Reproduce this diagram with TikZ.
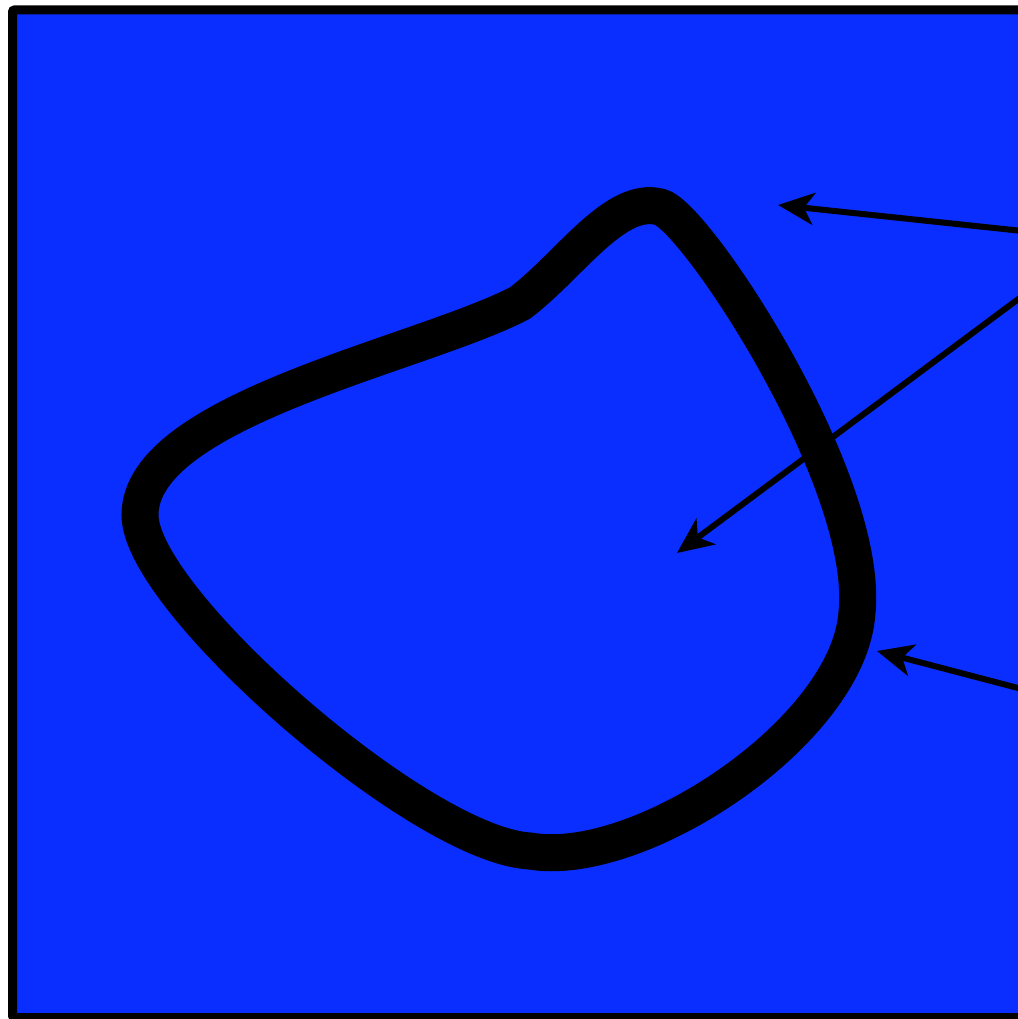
\documentclass[tikz,border=0pt]{standalone}
\usepackage{xcolor}
\definecolor{fieldblue}{RGB}{10,46,255}
\usetikzlibrary{arrows.meta}

\begin{document}
\begin{tikzpicture}[
        x=1pt, y=-1pt,
        frame/.style={draw=black, line width=9pt, fill=fieldblue, rounded corners=2pt},
        loopline/.style={draw=black, line width=37pt},
        pointer/.style={draw=black, line width=6pt,
                        -{Stealth[length=36pt, width=32pt, inset=10pt]}}
      ]
        \useasboundingbox (0,0) rectangle (1017,1019);

        % Blue field
        \path[frame] (12.5,10) rectangle (1040,1017.5);

        % Closed curve
        \path[loopline] (520,303)
            .. controls (570,265) and (615,195) .. (660,207)
            .. controls (695,215) and (870,480) .. (857,612)
            .. controls (850,730) and (640,870) .. (530,851)
            .. controls (420,845) and (140,600) .. (140,515)
            .. controls (140,410) and (420,355) .. cycle;

        % Arrow ends
        \coordinate (srcA) at (1060,235);
        \coordinate (tipA) at (778,205);
        \coordinate (srcB) at (1060,268);
        \coordinate (tipB) at (677,553);
        \coordinate (srcC) at (1060,699);
        \coordinate (tipC) at (877,651);

        % Arrows
        \draw[pointer] (srcA) -- (tipA);
        \draw[pointer] (srcB) -- (tipB);
        \draw[pointer] (srcC) -- (tipC);
      \end{tikzpicture}
\end{document}
